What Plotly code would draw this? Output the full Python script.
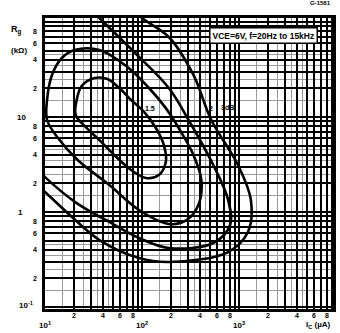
import math
import plotly.graph_objects as go

# Noise-figure contours: collector current Ic (uA) vs source resistance Rg (kOhm)
c1_ic = [20.7, 21.2, 23.9, 32.4, 44.0, 58.3, 77.2, 105, 139, 168, 176, 149, 110, 77.2, 54.3, 36.4, 26.2, 20.7]
c1_rg = [10.5, 15.1, 21.2, 25.7, 25.1, 20.2, 15.1, 11.3, 7.66, 5.07, 3.36, 2.45, 2.28, 2.77, 3.79, 5.7, 7.85, 10.5]

c2_ic = [10.5, 10.5, 11.8, 14.9, 20.2, 36.4, 68.7, 118, 176, 239, 339, 409, 382, 288, 189, 93.2, 46.1, 21.7, 13.6, 10.5]
c2_rg = [9.3, 15.1, 27.7, 41.8, 50.7, 50.7, 34.4, 20.2, 12.4, 7.66, 3.98, 2.17, 1.19, 0.82, 0.748, 1.05, 1.92, 3.53, 6.0, 9.3]

c3_ic = [30.2, 36.4, 82.9, 189, 302, 543, 773, 809, 543, 189, 93.2, 46.1, 21.2, 10.0, 8.9]
c3_rg = [134, 110, 48.3, 20.2, 9.3, 3.12, 1.34, 0.73, 0.472, 0.418, 0.532, 0.785, 1.24, 2.33, 2.64]

c4_ic = [82.9, 100, 189, 339, 518, 977, 1325, 1236, 773, 189, 93.2, 36.4, 18.0, 10.0, 8.9]
c4_rg = [134, 110, 69.5, 27.7, 9.3, 3.12, 1.34, 0.615, 0.379, 0.298, 0.328, 0.507, 0.93, 1.62, 1.79]

# contour labels (Ic, Rg, text)
lbl_ic = [122, 520, 760]
lbl_rg = [12.4, 12.4, 12.6]
lbl_txt = ["1.5", "2", "3dB"]

decades_x = [10, 100, 1000]
decades_y = [0.1, 1, 10]
mults = [1, 2, 3, 4, 5, 6, 7, 8, 9]
half_mults = [1.5, 2.5, 3.5, 4.5]
minor_lbl = [2, 4, 6, 8]

x_lo, x_hi = 1.0, 3.969
y_lo, y_hi = -1.021, 2.042

fig = go.Figure()
for xs, ys in [(c1_ic, c1_rg), (c2_ic, c2_rg), (c3_ic, c3_rg), (c4_ic, c4_rg)]:
    fig.add_trace(go.Scatter(x=xs, y=ys, mode="lines",
                             line=dict(color="black", width=2.6, shape="spline", smoothing=1.0),
                             hoverinfo="skip", showlegend=False))

grid_x = [d * m for d in decades_x for m in mults] + [10000]
grid_y = [d * m for d in decades_y for m in mults] + [100]
fine_x = [d * m for d in decades_x for m in half_mults]
fine_y = [d * m for d in decades_y for m in half_mults]

font = dict(family="Liberation Sans, Arial, sans-serif", color="black")
ann = []
# x tick labels
for d in decades_x:
    for m in minor_lbl:
        ann.append(dict(x=math.log10(d * m), y=-0.005, xref="x", yref="paper", text=f"<b>{m}</b>",
                        showarrow=False, xanchor="center", yanchor="top", font=dict(size=7, **font)))
for d, e in zip(decades_x, [1, 2, 3]):
    ann.append(dict(x=math.log10(d), y=-0.03, xref="x", yref="paper",
                    text=f"<b>10<sup>{e}</sup></b>", showarrow=False, xanchor="center", yanchor="top",
                    font=dict(size=8, **font)))
# y tick labels
for d in decades_y:
    for m in minor_lbl:
        ann.append(dict(x=-0.02, y=math.log10(d * m), xref="paper", yref="y", text=f"<b>{m}</b>",
                        showarrow=False, xanchor="right", yanchor="middle", font=dict(size=7, **font)))
ann.append(dict(x=-0.06, y=1, xref="paper", yref="y", text="<b>10</b>", showarrow=False,
                xanchor="right", yanchor="middle", font=dict(size=8, **font)))
ann.append(dict(x=-0.07, y=0, xref="paper", yref="y", text="<b>1</b>", showarrow=False,
                xanchor="right", yanchor="middle", font=dict(size=8, **font)))
ann.append(dict(x=-0.035, y=-0.98, xref="paper", yref="y", text="<b>10<sup>-1</sup></b>",
                showarrow=False, xanchor="right", yanchor="middle", font=dict(size=8, **font)))
# axis titles
ann.append(dict(x=-0.1, y=0.96, xref="paper", yref="paper", text="<b>R<sub>g</sub></b>",
                showarrow=False, xanchor="center", yanchor="middle", font=dict(size=9, **font)))
ann.append(dict(x=-0.09, y=0.89, xref="paper", yref="paper", text="<b>(kΩ)</b>",
                showarrow=False, xanchor="center", yanchor="middle", font=dict(size=8, **font)))
ann.append(dict(x=0.95, y=-0.03, xref="paper", yref="paper", text="<b>I<sub>C</sub> (µA)</b>",
                showarrow=False, xanchor="center", yanchor="top", font=dict(size=8, **font)))
# condition box and figure code
ann.append(dict(x=0.76, y=0.94, xref="paper", yref="paper", text="<b>VCE=6V, f=20Hz to 15kHz</b>",
                showarrow=False, xanchor="center", yanchor="middle", bgcolor="white",
                bordercolor="black", borderwidth=1.5, borderpad=2, font=dict(size=8.5, **font)))
ann.append(dict(x=1.0, y=1.05, xref="paper", yref="paper", text="<b>G-1581</b>",
                showarrow=False, xanchor="right", yanchor="middle", font=dict(size=6, **font)))
# contour labels
for xi, yi, t in zip(lbl_ic, lbl_rg, lbl_txt):
    ann.append(dict(x=math.log10(xi), y=math.log10(yi), xref="x", yref="y", text=f"<b>{t}</b>",
                    showarrow=False, xanchor="center", yanchor="middle", font=dict(size=7, **font)))

axis_common = dict(type="log", showgrid=True, gridcolor="black", gridwidth=1.5,
                   showticklabels=False, ticks="", zeroline=False,
                   showline=True, linecolor="black", linewidth=2.5, mirror=True)

fig.update_layout(
    width=340, height=333,
    margin=dict(l=45, r=4, t=18, b=24),
    paper_bgcolor="white", plot_bgcolor="white",
    xaxis=dict(range=[x_lo, x_hi], tickvals=grid_x,
               minor=dict(tickvals=fine_x, showgrid=True, gridcolor="#9a9a9a", gridwidth=1, ticks=""),
               **axis_common),
    yaxis=dict(range=[y_lo, y_hi], tickvals=grid_y,
               minor=dict(tickvals=fine_y, showgrid=True, gridcolor="#9a9a9a", gridwidth=1, ticks=""),
               **axis_common),
    annotations=ann,
)

fig.write_html("out.html")
